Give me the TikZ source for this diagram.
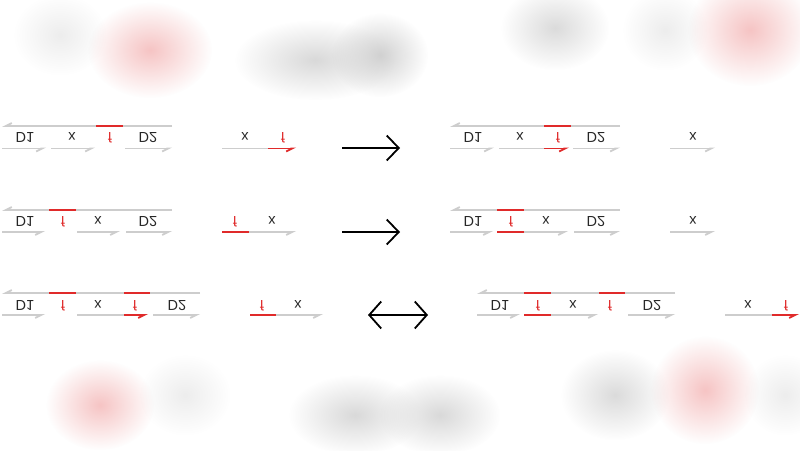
\documentclass[tikz,border=0pt]{standalone}
\usepackage{fontspec}
\setmainfont{Liberation Sans}
\usepackage{graphicx}
\usetikzlibrary{arrows.meta,fadings}
\definecolor{strandgray}{HTML}{CDCDCD}
\definecolor{fred}{HTML}{E02A2A}
\definecolor{labelgray}{HTML}{262626}
\definecolor{blobpink}{HTML}{F6C4C4}
\newcommand{\flip}[1]{\scalebox{1}[-1]{#1}}
\tikzfading[name=blur, inner color=transparent!0, outer color=transparent!100]
\begin{document}
\begin{tikzpicture}[x=1pt,y=-1pt,
  gs/.style={draw=strandgray, line width=1.8pt},
  rs/.style={draw=fred, line width=1.8pt},
  tip/.style={-{Straight Barb[harpoon,swap,length=6pt,width=6pt]}},
  lbl/.style={anchor=base, inner sep=0pt, text=labelgray, font=\fontsize{14.5}{15}\selectfont},
  rlbl/.style={lbl, text=fred},
  react/.style={line width=1.8pt, -{Straight Barb[length=12pt,width=25pt,line width=1.8pt]}},
  both/.style={line width=1.8pt, {Straight Barb[length=12pt,width=27pt,line width=1.8pt]}-{Straight Barb[length=12pt,width=27pt,line width=1.8pt]}},
  blob/.style={path fading=blur}]
\useasboundingbox (0,0) rectangle (800,450);
\fill[white] (0,0) rectangle (800,450);

\fill[blob, gray!14] (60,35) ellipse (46 and 40);
\fill[blob, blobpink] (150,50) ellipse (62 and 48);
\fill[blob, gray!30] (315,60) ellipse (80 and 40);
\fill[blob, gray!36] (380,55) ellipse (48 and 42);
\fill[blob, gray!28] (555,28) ellipse (54 and 42);
\fill[blob, gray!14] (665,30) ellipse (42 and 40);
\fill[blob, blobpink] (750,30) ellipse (62 and 56);
\fill[blob, blobpink] (100,405) ellipse (54 and 45);
\fill[blob, gray!14] (185,395) ellipse (45 and 40);
\fill[blob, gray!30] (355,415) ellipse (66 and 40);
\fill[blob, gray!30] (440,415) ellipse (60 and 40);
\fill[blob, gray!28] (615,395) ellipse (54 and 45);
\fill[blob, blobpink] (705,390) ellipse (54 and 54);
\fill[blob, gray!14] (785,395) ellipse (40 and 40);

\draw[gs,tip] (172,126) -- (2,126);
\draw[rs] (96,126) -- (123,126);
\draw[gs,tip] (2,148.5) -- (46,148.5);
\draw[gs,tip] (51,148.5) -- (95,148.5);
\draw[gs,tip] (125,148.5) -- (172,148.5);
\node[lbl] (ad1) at (25,132.5) {\flip{D1}};
\node[lbl] (ax) at (72,132.5) {\flip{x}};
\node[rlbl] (af) at (110,132.5) {\flip{f}};
\node[lbl] (ad2) at (148,132.5) {\flip{D2}};
\draw[gs] (222,148.5) -- (268,148.5);
\draw[rs,tip] (268,148.5) -- (296,148.5);
\node[lbl] (apx) at (245,132.5) {\flip{x}};
\node[rlbl] (apf) at (283,132.5) {\flip{f}};
\coordinate (a1) at (342,148);
\coordinate (a2) at (400,148);
\draw[react] (a1) -- (a2);
\draw[gs,tip] (620,126) -- (450,126);
\draw[rs] (544,126) -- (571,126);
\draw[gs,tip] (450,148.5) -- (494,148.5);
\draw[gs] (499,148.5) -- (544,148.5);
\draw[rs,tip] (544,148.5) -- (569,148.5);
\draw[gs,tip] (573,148.5) -- (620,148.5);
\node[lbl] (bd1) at (473,132.5) {\flip{D1}};
\node[lbl] (bx) at (520,132.5) {\flip{x}};
\node[rlbl] (bf) at (558,132.5) {\flip{f}};
\node[lbl] (bd2) at (596,132.5) {\flip{D2}};
\draw[gs,tip] (670,148.5) -- (715,148.5);
\node[lbl] (bpx) at (693,132.5) {\flip{x}};

\draw[gs,tip] (172,210) -- (2,210);
\draw[rs] (49,210) -- (76,210);
\draw[gs,tip] (2,232) -- (45,232);
\draw[gs,tip] (77,232) -- (120,232);
\draw[gs,tip] (126,232) -- (172,232);
\node[lbl] (cd1) at (25,216.5) {\flip{D1}};
\node[rlbl] (cf) at (63,216.5) {\flip{f}};
\node[lbl] (cx) at (98,216.5) {\flip{x}};
\node[lbl] (cd2) at (148,216.5) {\flip{D2}};
\draw[rs] (222,232) -- (249,232);
\draw[gs,tip] (249,232) -- (296,232);
\node[rlbl] (cpf) at (235,216.5) {\flip{f}};
\node[lbl] (cpx) at (272,216.5) {\flip{x}};
\coordinate (b1) at (342,232);
\coordinate (b2) at (400,232);
\draw[react] (b1) -- (b2);
\draw[gs,tip] (620,210) -- (450,210);
\draw[rs] (497,210) -- (524,210);
\draw[gs,tip] (450,232) -- (493,232);
\draw[rs] (497,232) -- (524,232);
\draw[gs,tip] (524,232) -- (568,232);
\draw[gs,tip] (574,232) -- (620,232);
\node[lbl] (dd1) at (473,216.5) {\flip{D1}};
\node[rlbl] (df) at (511,216.5) {\flip{f}};
\node[lbl] (dx) at (546,216.5) {\flip{x}};
\node[lbl] (dd2) at (596,216.5) {\flip{D2}};
\draw[gs,tip] (670,232) -- (715,232);
\node[lbl] (dpx) at (693,216.5) {\flip{x}};

\draw[gs,tip] (200,293) -- (2,293);
\draw[rs] (49,293) -- (76,293);
\draw[rs] (124,293) -- (150,293);
\draw[gs,tip] (2,315) -- (45,315);
\draw[gs] (77,315) -- (124,315);
\draw[rs,tip] (124,315) -- (148,315);
\draw[gs,tip] (153,315) -- (200,315);
\node[lbl] (ed1) at (25,300) {\flip{D1}};
\node[rlbl] (ef1) at (63,300) {\flip{f}};
\node[lbl] (ex) at (98,300) {\flip{x}};
\node[rlbl] (ef2) at (135,300) {\flip{f}};
\node[lbl] (ed2) at (177,300) {\flip{D2}};
\draw[rs] (250,315) -- (276,315);
\draw[gs,tip] (276,315) -- (323,315);
\node[rlbl] (epf) at (262,300) {\flip{f}};
\node[lbl] (epx) at (298,300) {\flip{x}};
\coordinate (c1) at (368,315);
\coordinate (c2) at (428,315);
\draw[both] (c1) -- (c2);
\draw[gs,tip] (675,293) -- (477,293);
\draw[rs] (524,293) -- (551,293);
\draw[rs] (599,293) -- (625,293);
\draw[gs,tip] (477,315) -- (520,315);
\draw[rs] (524,315) -- (551,315);
\draw[gs,tip] (551,315) -- (598,315);
\draw[gs,tip] (628,315) -- (675,315);
\node[lbl] (fd1) at (500,300) {\flip{D1}};
\node[rlbl] (ff1) at (538,300) {\flip{f}};
\node[lbl] (fx) at (573,300) {\flip{x}};
\node[rlbl] (ff2) at (610,300) {\flip{f}};
\node[lbl] (fd2) at (652,300) {\flip{D2}};
\draw[gs] (725,315) -- (772,315);
\draw[rs,tip] (772,315) -- (799,315);
\node[lbl] (fpx) at (748,300) {\flip{x}};
\node[rlbl] (fpf) at (786,300) {\flip{f}};
\end{tikzpicture}
\end{document}
